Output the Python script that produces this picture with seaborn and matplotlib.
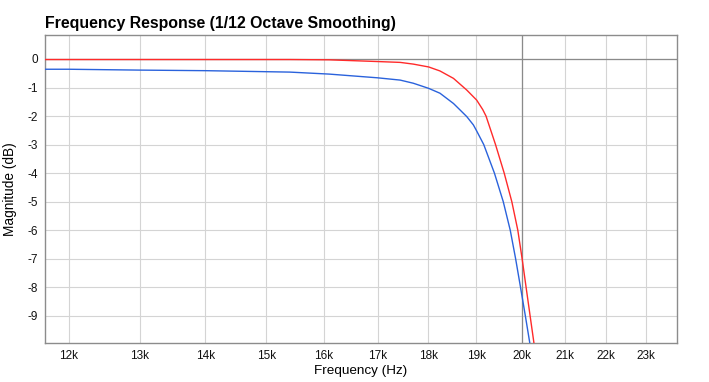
import numpy as np
import pandas as pd
import seaborn as sns
import matplotlib as mpl
mpl.use('Agg')
import matplotlib.pyplot as plt
from matplotlib.ticker import FixedLocator, NullLocator

# red curve (Hz, dB)
red_freq = [11690, 13000, 14000, 15400, 16100, 17000, 17440, 17700, 18010, 18240,
            18520, 18800, 19010, 19140, 19212, 19419, 19610, 19779, 19913, 20010,
            20100, 20191, 20283]
red_db = [-0.02, -0.02, -0.02, -0.02, -0.03, -0.09, -0.12, -0.18, -0.28, -0.42,
          -0.68, -1.09, -1.44, -1.77, -2.0, -3.0, -4.0, -5.0, -6.0, -7.0,
          -8.0, -9.0, -10.0]

# blue curve
blue_freq = [11690, 12000, 13000, 14000, 15400, 16100, 17000, 17440, 17700, 18010,
             18240, 18520, 18660, 18800, 18940, 19010, 19163, 19395, 19589, 19744,
             19864, 19974, 20083, 20189]
blue_db = [-0.36, -0.36, -0.39, -0.41, -0.46, -0.53, -0.66, -0.74, -0.85, -1.03,
           -1.2, -1.56, -1.79, -2.02, -2.31, -2.52, -3.0, -4.0, -5.0, -6.0,
           -7.0, -8.0, -9.0, -10.0]

x_ticks = [12000, 13000, 14000, 15000, 16000, 17000, 18000, 19000, 20000, 21000, 22000, 23000]
x_labels = ["12k", "13k", "14k", "15k", "16k", "17k", "18k", "19k", "20k", "21k", "22k", "23k"]
y_ticks = [0, -1, -2, -3, -4, -5, -6, -7, -8, -9]

sns.set_style("whitegrid")
plt.rcParams['font.family'] = ['Liberation Sans', 'DejaVu Sans']
plt.rcParams['text.color'] = 'black'
plt.rcParams['axes.labelcolor'] = 'black'

fig = plt.figure(figsize=(7.09, 3.82), dpi=100)
ax = fig.add_axes([0.0639, 0.1021, 0.8906, 0.8063])

sns.lineplot(x=red_freq, y=red_db, ax=ax, color="#ff2a2a", linewidth=1.0, zorder=4)
sns.lineplot(x=blue_freq, y=blue_db, ax=ax, color="#2a62dc", linewidth=1.0, zorder=3)

ax.set_xscale("log")
ax.set_xlim(11690, 23820)
ax.set_ylim(-9.95, 0.84)

ax.xaxis.set_major_locator(FixedLocator(x_ticks))
ax.xaxis.set_minor_locator(NullLocator())
ax.set_xticklabels(x_labels)
ax.set_yticks(y_ticks)
ax.set_yticklabels([str(v) for v in y_ticks])

ax.grid(True, color="#d4d4d4", linewidth=0.8)
ax.axhline(0, color="#8a8a8a", linewidth=0.9, zorder=2)
ax.axvline(20000, color="#8a8a8a", linewidth=0.9, zorder=2)

for s in ax.spines.values():
    s.set_color("#8c8c8c")
    s.set_linewidth(1.0)

ax.tick_params(axis='both', length=0, labelsize=8.5, colors="#111111", pad=5)
ax.set_xlabel("Frequency (Hz)", fontsize=9.7, labelpad=2, color="black")
ax.set_ylabel("Magnitude (dB)", fontsize=9.8, labelpad=8, color="black")
ax.set_title("Frequency Response (1/12 Octave Smoothing)", loc="left",
             fontsize=11.4, fontweight="bold", pad=5, color="black")

plt.savefig("out.png", dpi=100)
